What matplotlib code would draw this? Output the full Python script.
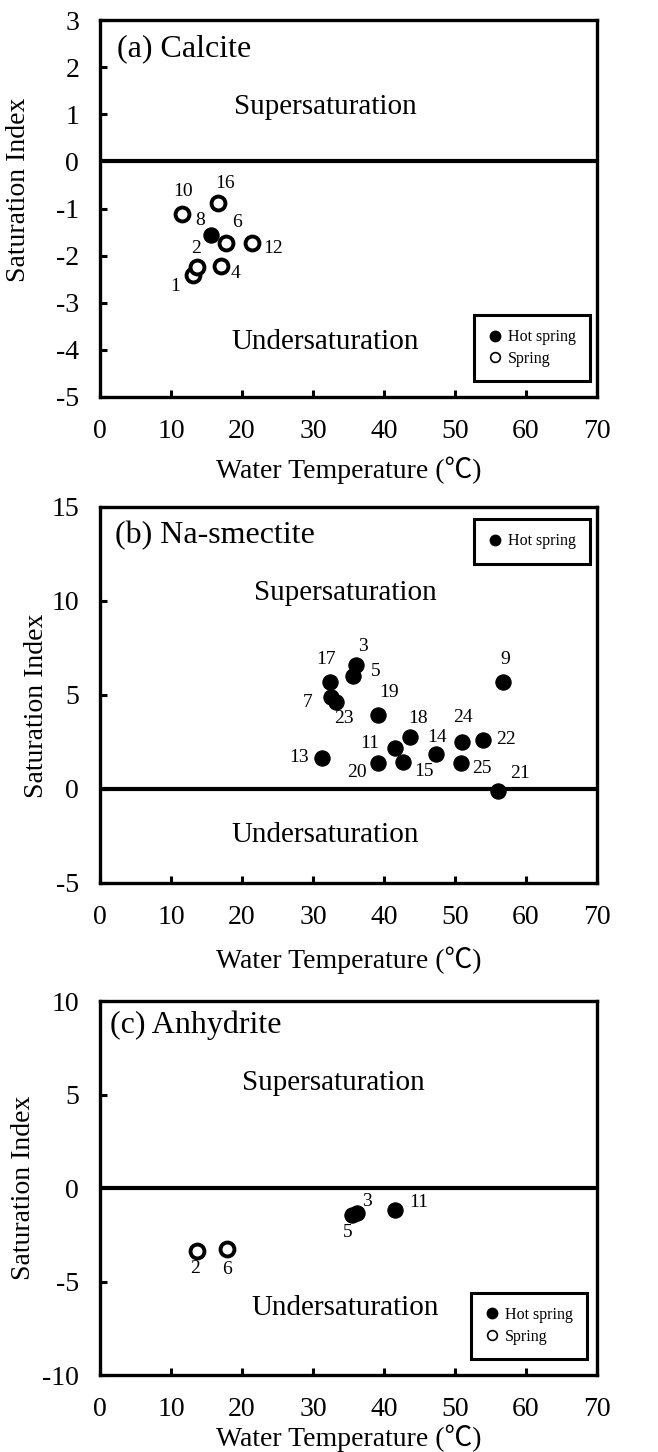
import matplotlib.pyplot as plt
from matplotlib.lines import Line2D

plt.rcParams['font.family'] = ['Liberation Serif', 'Noto Sans CJK JP', 'DejaVu Sans']
plt.rcParams['axes.unicode_minus'] = False

# (a) Calcite
cal_hot_id = ['8']
cal_hot_t = [15.6]
cal_hot_si = [-1.56]
cal_spr_id = ['1', '2', '4', '6', '10', '12', '16']
cal_spr_t = [13.1, 13.6, 17.0, 17.7, 11.5, 21.4, 16.6]
cal_spr_si = [-2.42, -2.24, -2.21, -1.73, -1.11, -1.73, -0.88]

# (b) Na-smectite (hot springs only)
sme_id = ['3', '5', '7', '9', '11', '13', '14', '15', '17', '18', '19', '20', '21', '22', '23', '24', '25']
sme_t = [36.0, 35.7, 32.6, 56.8, 41.6, 31.3, 47.3, 42.7, 32.4, 43.7, 39.1, 39.1, 56.1, 53.9, 33.2, 51.0, 50.8]
sme_si = [6.6, 6.03, 4.88, 5.7, 2.16, 1.65, 1.86, 1.42, 5.7, 2.75, 3.94, 1.37, -0.12, 2.61, 4.61, 2.52, 1.37]

# (c) Anhydrite
anh_hot_id = ['3', '5', '11']
anh_hot_t = [36.2, 35.5, 41.5]
anh_hot_si = [-1.33, -1.46, -1.19]
anh_spr_id = ['2', '6']
anh_spr_t = [13.7, 17.9]
anh_spr_si = [-3.38, -3.25]

x_ticks = [0, 10, 20, 30, 40, 50, 60, 70]

# label offsets in points, keyed by sample number
off_a = {'1': (-13, -8), '2': (-0.5, 13.5), '4': (10.5, -6), '6': (8.5, 15), '8': (-7.5, 10.5),
         '10': (1, 16), '12': (15.5, -4), '16': (5, 14)}
off_b = {'3': (5.5, 13), '5': (16, 3), '7': (-17, -4), '9': (1.5, 16), '11': (-18.5, 3.5),
         '13': (-17, 0), '14': (0.5, 12), '15': (15, -7), '17': (-3, 16), '18': (5.5, 13.5),
         '19': (8, 16), '20': (-15, -6.5), '21': (15.5, 12.5), '22': (17, 0), '23': (6, -12),
         '24': (0.7, 17), '25': (15, -4)}
off_c = {'2': (-1.5, -12.5), '6': (0, -15), '5': (-3, -12.5), '3': (7, 8), '11': (17.5, 5.5)}

fig = plt.figure(figsize=(6.58, 14.52), dpi=100)
L, W = 0.152, 0.7553
ax_a = fig.add_axes([L, 0.7266, W, 0.2596])
ax_b = fig.add_axes([L, 0.3919, W, 0.2590])
ax_c = fig.add_axes([L, 0.0530, W, 0.2576])

hot_kw = dict(linestyle='none', marker='o', ms=11, mfc='black', mec='black', mew=0.8, zorder=4)
spr_kw = dict(linestyle='none', marker='o', ms=10, mfc='white', mec='black', mew=2.8, zorder=4)


def points(ax, t, si, ids, offs, kw):
    ax.plot(t, si, **kw)
    for x, y, s in zip(t, si, ids):
        ax.annotate(s, (x, y), xytext=offs[s], textcoords='offset points',
                    ha='center', va='center', fontsize=14)


def frame(ax, ylim, yticks, title, tpos, sup_y, und_y, ylab_pos, xlab_y):
    ax.set_xlim(0, 70)
    ax.set_ylim(*ylim)
    ax.set_xticks(x_ticks)
    ax.set_xticklabels([str(v) for v in x_ticks])
    ax.set_yticks(yticks)
    ax.set_yticklabels([str(v) for v in yticks])
    ax.tick_params(direction='in', length=5, width=2.2, labelsize=20, top=False, right=False)
    ax.tick_params(axis='x', pad=16)
    ax.tick_params(axis='y', pad=15)
    for sp in ax.spines.values():
        sp.set_linewidth(2.4)
    ax.axhline(0, color='black', lw=3, zorder=3)
    ax.text(tpos[0], tpos[1], title, transform=ax.transAxes, fontsize=23, va='center', ha='left')
    ax.text(sup_y[0], sup_y[1], 'Supersaturation', fontsize=21, ha='center', va='center')
    ax.text(und_y[0], und_y[1], 'Undersaturation', fontsize=21, ha='center', va='center')
    ax.set_ylabel('Saturation Index', fontsize=20, va='center')
    ax.yaxis.set_label_coords(*ylab_pos)
    ax.set_xlabel('Water Temperature (℃)', fontsize=20, va='center')
    ax.xaxis.set_label_coords(0.5, xlab_y)


def legend(ax, handles, anchor, loc):
    lg = ax.legend(handles=handles, loc=loc, bbox_to_anchor=anchor, fontsize=11.5,
                   frameon=True, fancybox=False, edgecolor='black', framealpha=1,
                   handlelength=0.8, handletextpad=0.4, borderpad=0.9, labelspacing=0.35,
                   borderaxespad=0)
    lg.get_frame().set_linewidth(2.2)


hot_h = Line2D([], [], linestyle='none', marker='o', ms=7.5, mfc='black', mec='black', label='Hot spring')
spr_h = Line2D([], [], linestyle='none', marker='o', ms=7, mfc='white', mec='black', mew=1.2, label='Spring')

# (a)
frame(ax_a, (-5, 3), list(range(-5, 4)), '(a) Calcite', (0.034, 0.925), (31.8, 1.15), (31.7, -3.84),
      (-0.165, 0.55), -0.194)
points(ax_a, cal_spr_t, cal_spr_si, cal_spr_id, off_a, spr_kw)
points(ax_a, cal_hot_t, cal_hot_si, cal_hot_id, off_a, hot_kw)
legend(ax_a, [hot_h, spr_h], (0.986, 0.042), 'lower right')

# (b)
frame(ax_b, (-5, 15), [-5, 0, 5, 10, 15], '(b) Na-smectite', (0.030, 0.923), (34.5, 10.4), (31.7, -2.43),
      (-0.127, 0.47), -0.205)
points(ax_b, sme_t, sme_si, sme_id, off_b, hot_kw)
legend(ax_b, [hot_h], (0.986, 0.968), 'upper right')

# (c)
frame(ax_c, (-10, 10), [-10, -5, 0, 5, 10], '(c) Anhydrite', (0.020, 0.936), (32.8, 5.6), (34.6, -6.4),
      (-0.153, 0.5), -0.168)
points(ax_c, anh_spr_t, anh_spr_si, anh_spr_id, off_c, spr_kw)
points(ax_c, anh_hot_t, anh_hot_si, anh_hot_id, off_c, hot_kw)
legend(ax_c, [hot_h, spr_h], (0.980, 0.043), 'lower right')

fig.savefig('out.png', dpi=100)
